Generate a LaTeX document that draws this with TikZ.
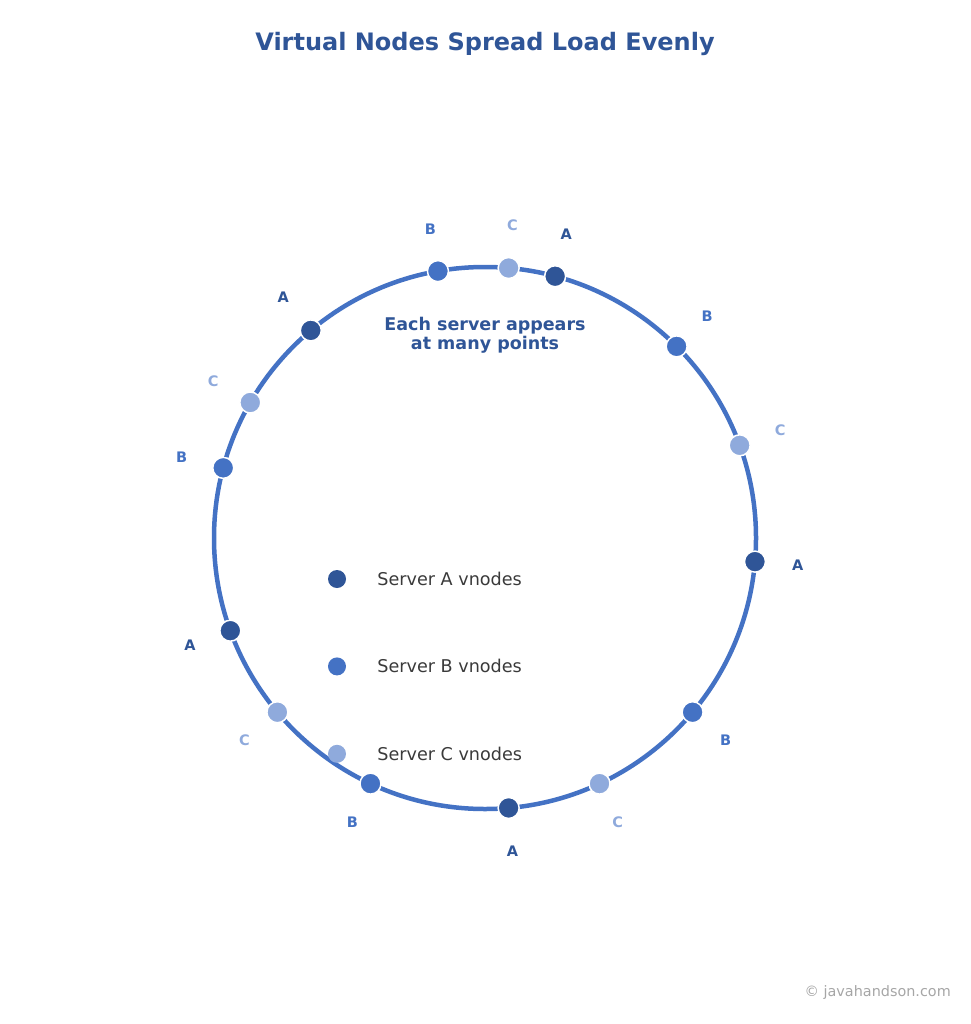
\documentclass[tikz,border=0pt]{standalone}
\usepackage{fontspec}
\setmainfont{DejaVu Sans}
\usetikzlibrary{positioning,calc}
\definecolor{srvA}{HTML}{2F5597}
\definecolor{srvB}{HTML}{4472C4}
\definecolor{srvC}{HTML}{8FAADC}
\definecolor{legtxt}{HTML}{3A3A3A}
\definecolor{marktxt}{HTML}{A6A6A6}

\begin{document}
\begin{tikzpicture}[x=1pt,y=-1pt,node distance=2cm,
    vnode/.style={circle,draw=white,line width=1.5pt,minimum size=21pt,inner sep=0pt},
    legdot/.style={circle,minimum size=18pt,inner sep=0pt},
    vlabel/.style={font=\fontsize{14.5}{17}\selectfont\bfseries,inner sep=0pt},
    legtext/.style={text=legtxt,font=\fontsize{17.6}{21}\selectfont,inner sep=0pt}]
      \useasboundingbox (0,0) rectangle (970,1024);
      \node[font=\fontsize{24}{29}\selectfont\bfseries,text=srvA] (title) at (485,44)
      {Virtual Nodes Spread Load Evenly};
      \coordinate (c) at (485,538);
      \draw[srvB,line width=4.5pt] (c) circle[radius=271pt];
      \node[font=\fontsize{17.5}{19}\selectfont\bfseries,text=srvA,align=center]
      (note) at (485,335) {Each server appears\\at many points};

      \foreach \ang/\srv/\nm in {75/A/a1,85/C/c1,100/B/b1,130/A/a2,150/C/c2,
        165/B/b2,200/A/a3,220/C/c3,245/B/b3,275/A/a4,295/C/c4,320/B/b4,
        355/A/a5,20/C/c5,45/B/b5}{
        \node[vnode,fill=srv\srv] (\nm) at ($(c)+(\ang:271pt)$) {};
        \node[vlabel,text=srv\srv] (\nm-lbl) at ($(c)+(\ang:314pt)$) {\srv};
      }

      \node[legdot,fill=srvA] (legA) at (337,579) {};
      \node[legdot,fill=srvB,below=69pt of legA] (legB) {};
      \node[legdot,fill=srvC,below=69pt of legB] (legC) {};
      \node[legtext,right=31pt of legA] (legA-txt) {Server A vnodes};
      \node[legtext,right=31pt of legB] (legB-txt) {Server B vnodes};
      \node[legtext,right=31pt of legC] (legC-txt) {Server C vnodes};

      \node[anchor=east,text=marktxt,font=\fontsize{14.4}{17}\selectfont,inner sep=0pt]
      (mark) at (951,993) {© javahandson.com};
    \end{tikzpicture}
\end{document}
